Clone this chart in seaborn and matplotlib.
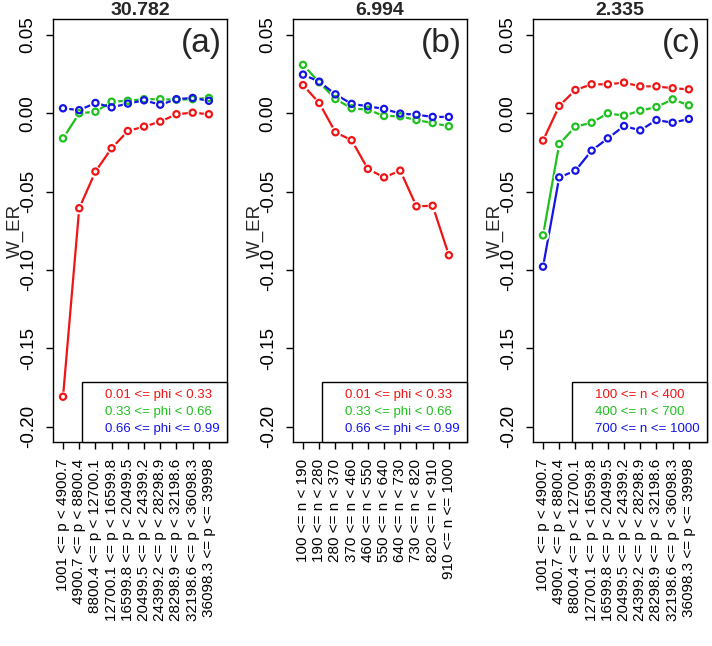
import numpy as np
import pandas as pd
import matplotlib
matplotlib.use("Agg")
import matplotlib.pyplot as plt
import seaborn as sns
from matplotlib.lines import Line2D

# ---------------- data ----------------
p_labels = ["1001 <= p < 4900.7", "4900.7 <= p < 8800.4", "8800.4 <= p < 12700.1",
            "12700.1 <= p < 16599.8", "16599.8 <= p < 20499.5", "20499.5 <= p < 24399.2",
            "24399.2 <= p < 28298.9", "28298.9 <= p < 32198.6", "32198.6 <= p < 36098.3",
            "36098.3 <= p <= 39998"]
n_labels = ["100 <= n < 190", "190 <= n < 280", "280 <= n < 370", "370 <= n < 460",
            "460 <= n < 550", "550 <= n < 640", "640 <= n < 730", "730 <= n < 820",
            "820 <= n < 910", "910 <= n <= 1000"]
phi_groups = ["0.01 <= phi < 0.33", "0.33 <= phi < 0.66", "0.66 <= phi <= 0.99"]
n_groups = ["100 <= n < 400", "400 <= n < 700", "700 <= n <= 1000"]
titles = ["30.782", "6.994", "2.335"]
tags = ["(a)", "(b)", "(c)"]

a_low = [-0.1809, -0.0606, -0.0372, -0.0223, -0.0113, -0.0085, -0.0053, -0.0006, 0.0004, -0.0006]
a_mid = [-0.0160, 0.0000, 0.0010, 0.0074, 0.0080, 0.0090, 0.0090, 0.0087, 0.0090, 0.0098]
a_high = [0.0032, 0.0020, 0.0066, 0.0038, 0.0062, 0.0083, 0.0055, 0.0090, 0.0098, 0.0080]

b_low = [0.0180, 0.0066, -0.0121, -0.0172, -0.0355, -0.0409, -0.0366, -0.0594, -0.0590, -0.0906]
b_mid = [0.0309, 0.0198, 0.0091, 0.0032, 0.0023, -0.0017, -0.0019, -0.0043, -0.0062, -0.0083]
b_high = [0.0247, 0.0202, 0.0121, 0.0060, 0.0045, 0.0028, -0.0002, -0.0009, -0.0023, -0.0023]

c_low = [-0.0174, 0.0047, 0.0149, 0.0185, 0.0185, 0.0196, 0.0172, 0.0172, 0.0160, 0.0153]
c_mid = [-0.0779, -0.0196, -0.0085, -0.0060, 0.0000, -0.0015, 0.0017, 0.0040, 0.0089, 0.0051]
c_high = [-0.0979, -0.0409, -0.0366, -0.0238, -0.0160, -0.0081, -0.0109, -0.0043, -0.0060, -0.0036]

colors = ["#F01414", "#1EC01E", "#1414E6"]
y_ticks = [-0.20, -0.15, -0.10, -0.05, 0.00, 0.05]

panels = [
    (p_labels, phi_groups, [a_low, a_mid, a_high]),
    (n_labels, phi_groups, [b_low, b_mid, b_high]),
    (p_labels, n_groups, [c_low, c_mid, c_high]),
]

# ---------------- style ----------------
sns.set_theme(style="ticks")
plt.rcParams['font.family'] = ['Liberation Sans', 'DejaVu Sans']
plt.rcParams['axes.unicode_minus'] = False

fig = plt.figure(figsize=(7.12, 6.46), dpi=100)
W, H = 712, 646
lefts = [53.3, 293.3, 533.3]
ax_w, ax_top, ax_bot = 173.4, 19.3, 442.3

for i, (xlabels, groups, series) in enumerate(panels):
    ax = fig.add_axes([lefts[i] / W, (H - ax_bot) / H, ax_w / W, (ax_bot - ax_top) / H])
    pos = np.arange(1, len(xlabels) + 1)
    df = pd.concat([pd.DataFrame({"pos": pos, "value": vals, "group": g})
                    for g, vals in zip(groups, series)], ignore_index=True)
    pal = dict(zip(groups, colors))
    sns.lineplot(data=df, x="pos", y="value", hue="group", hue_order=groups, palette=pal,
                 linewidth=1.6, legend=False, sort=False, ax=ax, zorder=2)
    # white gaps around points (R type="b")
    sns.scatterplot(data=df, x="pos", y="value", color="white", s=70, linewidth=0,
                    legend=False, ax=ax, zorder=3)
    for g, col in zip(groups, colors):
        sub = df[df["group"] == g]
        sns.scatterplot(data=sub, x="pos", y="value", facecolor="none", edgecolor=col,
                        s=20, linewidth=1.6, legend=False, ax=ax, zorder=4)

    ax.set_xlim(0.40, 11.1)
    ax.set_ylim(-0.21, 0.06)
    ax.set_xticks(pos)
    ax.set_xticklabels(xlabels, rotation=90, fontsize=11)
    ax.set_yticks(y_ticks)
    ax.set_yticklabels([f"{v:.2f}" for v in y_ticks], rotation=90, va="center", fontsize=13.5)
    ax.tick_params(axis="both", length=5, width=1, pad=7, direction="out", color="black",
                   labelcolor="black")
    ax.set_xlabel("")
    ax.set_ylabel("W_ER", fontsize=13.5, labelpad=-3)
    for sp in ax.spines.values():
        sp.set_color("black")
        sp.set_linewidth(1)
    ax.set_title(titles[i], fontweight="bold", fontsize=14, pad=1)
    ax.text(0.97, 0.943, tags[i], transform=ax.transAxes, ha="right", va="center", fontsize=24)

    handles = [Line2D([], [], linestyle="none") for _ in groups]
    leg = ax.legend(handles, groups, loc="lower right", borderaxespad=0, frameon=True,
                    fancybox=False, handlelength=1.0, handletextpad=0.2, borderpad=0.55,
                    labelspacing=0.35, fontsize=9.5, labelcolor=colors, framealpha=1,
                    edgecolor="black")
    leg.get_frame().set_linewidth(1)

fig.savefig("out.png", dpi=100)
